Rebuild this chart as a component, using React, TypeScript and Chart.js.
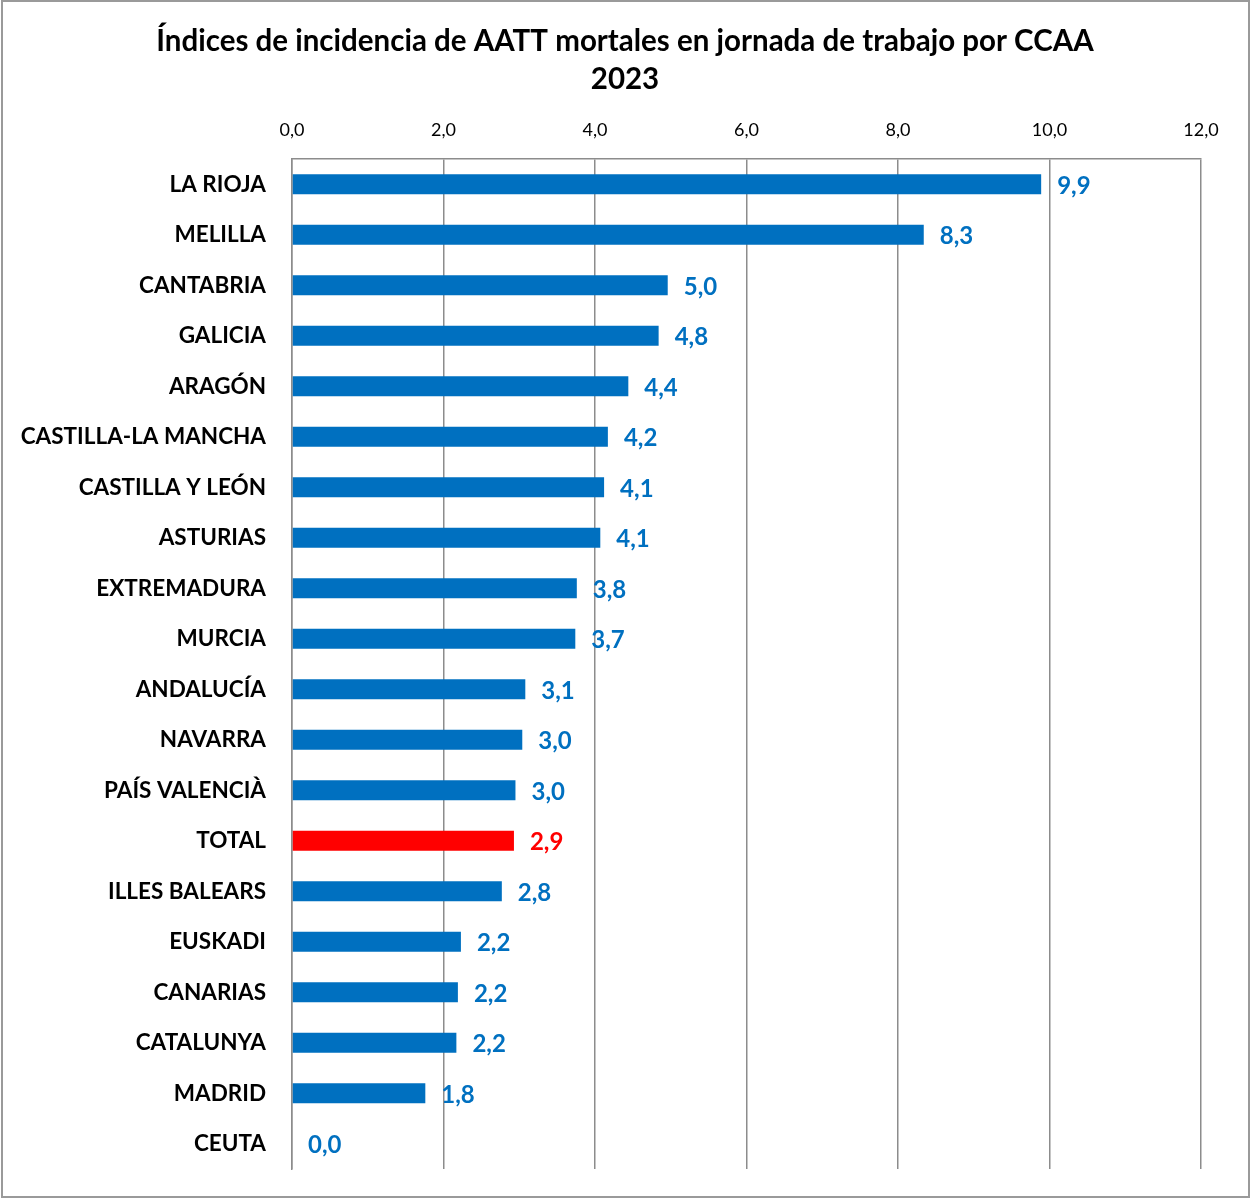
import React, { useEffect, useRef } from "react";
import { Chart, registerables } from "chart.js";

Chart.register(...registerables);

const categories = [
  "LA RIOJA", "MELILLA", "CANTABRIA", "GALICIA", "ARAGÓN",
  "CASTILLA-LA MANCHA", "CASTILLA Y LEÓN", "ASTURIAS", "EXTREMADURA", "MURCIA",
  "ANDALUCÍA", "NAVARRA", "PAÍS VALENCIÀ", "TOTAL", "ILLES BALEARS",
  "EUSKADI", "CANARIAS", "CATALUNYA", "MADRID", "CEUTA",
];
const values = [
  9.89, 8.34, 4.96, 4.84, 4.44,
  4.17, 4.12, 4.07, 3.76, 3.74,
  3.08, 3.04, 2.95, 2.93, 2.77,
  2.23, 2.19, 2.17, 1.76, 0.0,
];
const titleLines = [
  "Índices de incidencia de AATT mortales en jornada de trabajo por CCAA",
  "2023",
];
const xMin = 0;
const xMax = 12;
const xStep = 2;

const BLUE = "#0070C0";
const RED = "#FF0000";
const FONT = "Lato, 'Open Sans', sans-serif";

const fmt = (v: number) => v.toFixed(1).replace(".", ",");

const titlePlugin = {
  id: "customTitle",
  afterDraw(chart: any) {
    const ctx = chart.ctx;
    ctx.save();
    ctx.font = `bold 29.5px ${FONT}`;
    ctx.fillStyle = "#000";
    ctx.textAlign = "center";
    ctx.textBaseline = "middle";
    titleLines.forEach((t, i) => {
      ctx.fillText(t, chart.width / 2, 41 + i * 38);
    });
    ctx.restore();
  },
};

const dataLabelPlugin = {
  id: "dataLabels",
  afterDatasetsDraw(chart: any) {
    const ctx = chart.ctx;
    const meta = chart.getDatasetMeta(0);
    ctx.save();
    ctx.font = `bold 24px ${FONT}`;
    ctx.textAlign = "left";
    ctx.textBaseline = "middle";
    meta.data.forEach((bar: any, i: number) => {
      ctx.fillStyle = categories[i] === "TOTAL" ? RED : BLUE;
      ctx.fillText(fmt(values[i]), bar.x + 16, bar.y + 2);
    });
    ctx.restore();
  },
};

const borderPlugin = {
  id: "outerBorder",
  afterDraw(chart: any) {
    const ctx = chart.ctx;
    ctx.save();
    ctx.strokeStyle = "#9a9a9a";
    ctx.lineWidth = 2;
    ctx.strokeRect(2, 1, chart.width - 3, chart.height - 2);
    ctx.restore();
  },
};

export default function App() {
  const ref = useRef<HTMLCanvasElement | null>(null);
  useEffect(() => {
    if (!ref.current) return;
    const chart = new Chart(ref.current, {
      type: "bar",
      data: {
        labels: categories,
        datasets: [
          {
            data: values,
            backgroundColor: categories.map((c) => (c === "TOTAL" ? RED : BLUE)),
            borderWidth: 0,
            barPercentage: 0.4,
            categoryPercentage: 1,
          },
        ],
      },
      options: {
        indexAxis: "y",
        responsive: false,
        animation: false,
        layout: { padding: { left: 0, right: 49, top: 97, bottom: 29 } },
        plugins: {
          legend: { display: false },
          tooltip: { enabled: false },
          title: { display: false },
        },
        scales: {
          x: {
            position: "top",
            min: xMin,
            max: xMax,
            ticks: {
              stepSize: xStep,
              color: "#000",
              font: { family: FONT, size: 18 },
              padding: 18,
              callback: (v: any) => fmt(Number(v)),
            },
            grid: { color: "#8c8c8c", lineWidth: 1.5, drawTicks: false },
            border: { display: true, color: "#8c8c8c", width: 1.5 },
            afterFit: (s: any) => {
              s.height = 62;
              s.paddingLeft = 0;
              s.paddingRight = 0;
            },
          },
          y: {
            ticks: {
              color: "#000",
              font: { family: FONT, size: 22.5, weight: "bold" },
              padding: 26,
            },
            grid: { display: false, drawTicks: false },
            border: { display: true, color: "#8c8c8c", width: 1.5 },
            afterFit: (s: any) => {
              s.width = 292;
              s.paddingTop = 0;
              s.paddingBottom = 0;
            },
          },
        },
      },
      plugins: [dataLabelPlugin, titlePlugin, borderPlugin],
    });
    return () => chart.destroy();
  }, []);
  return (
    <div style={{ position: "absolute", left: 0, top: 0, width: 1250, height: 1198, background: "#fff" }}>
      <canvas ref={ref} width={1250} height={1198} style={{ display: "block" }} />
    </div>
  );
}
